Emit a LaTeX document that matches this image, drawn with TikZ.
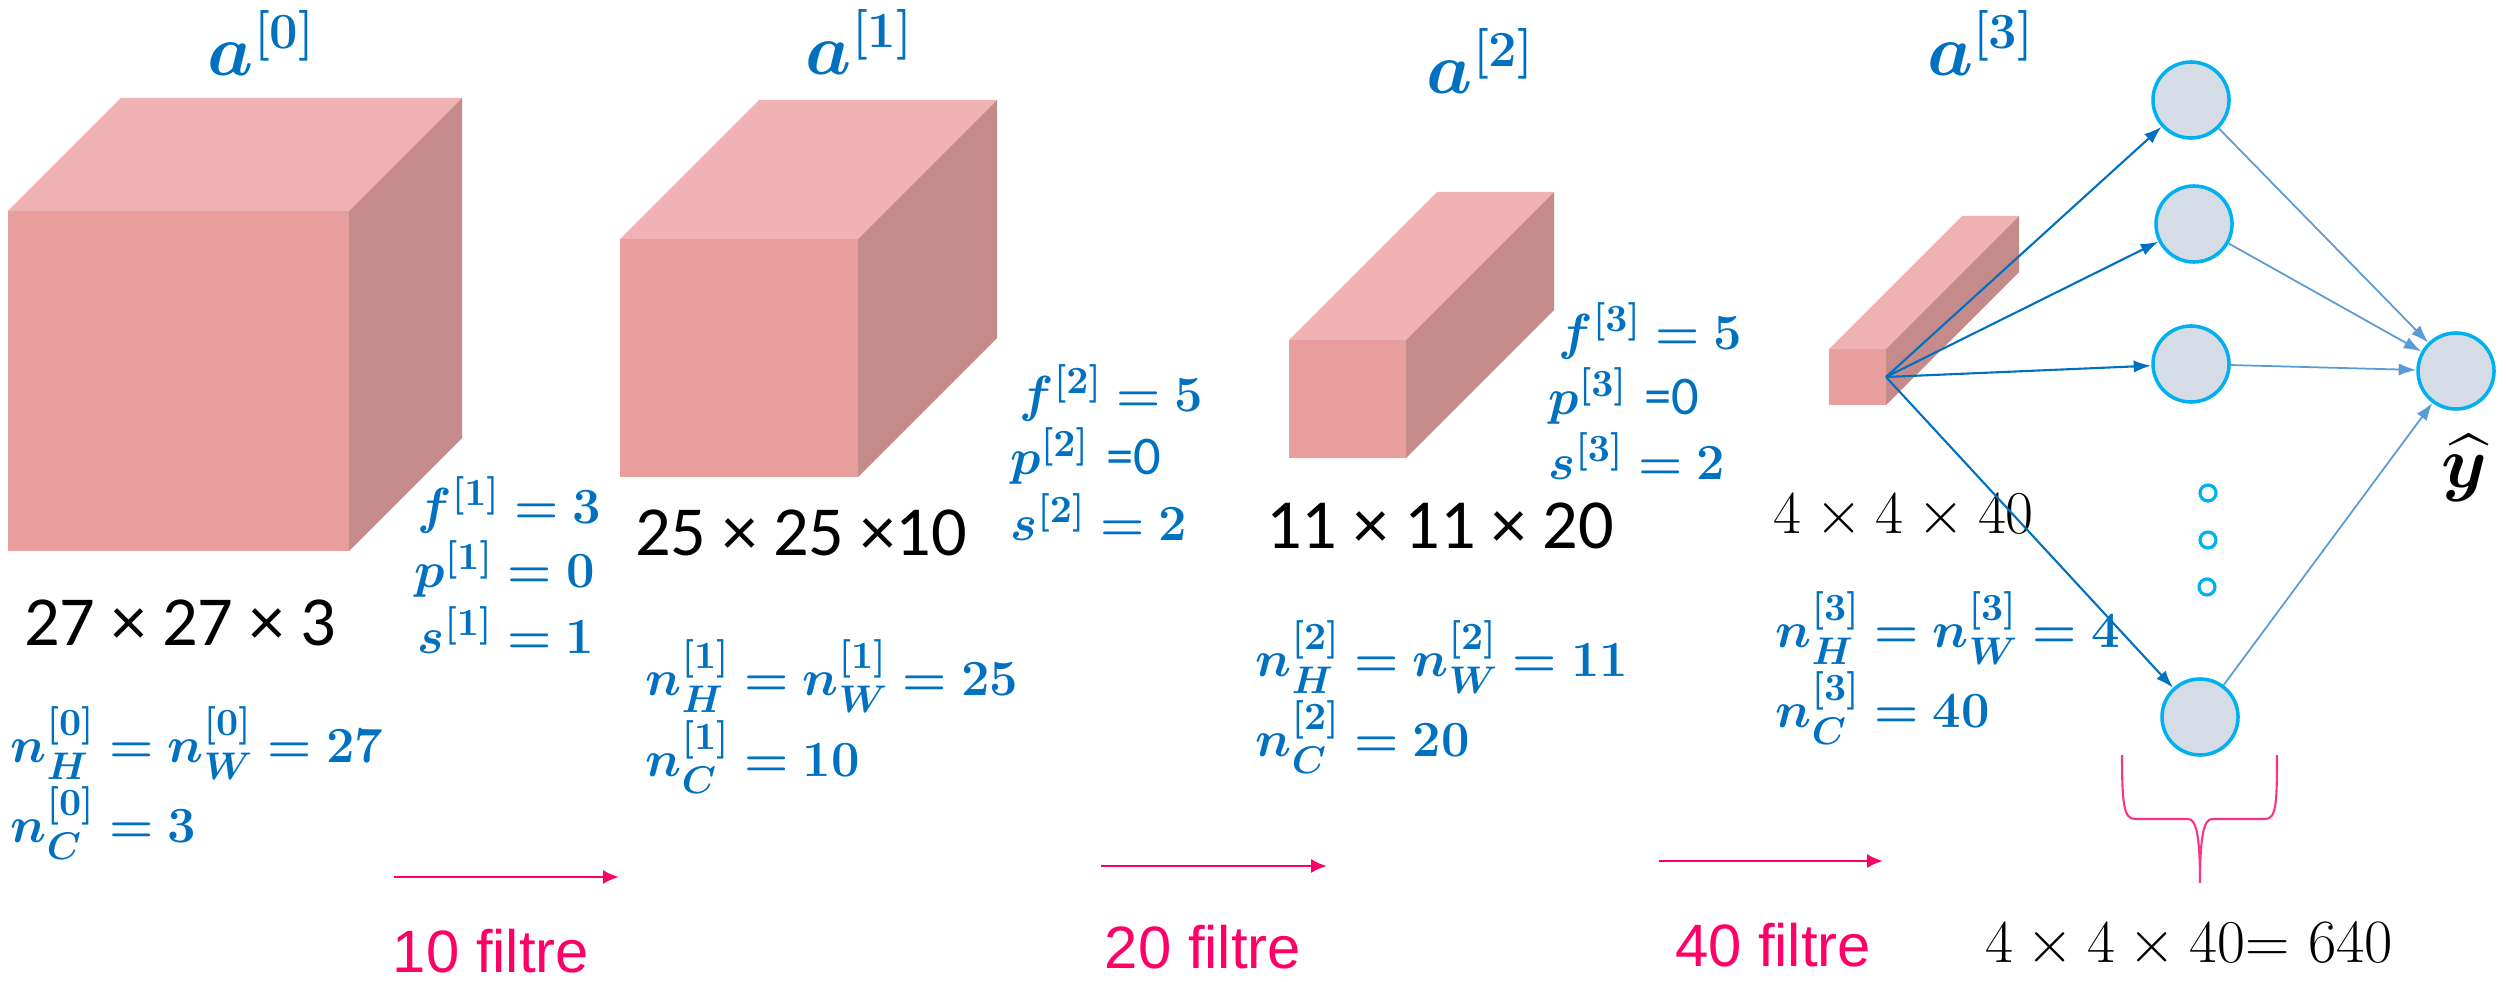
\documentclass[tikz,border=0pt]{standalone}
\usepackage{amsmath,amssymb}
\usepackage{bm}
\usepackage{fontspec}
\setsansfont{Carlito}
\newfontfamily\arialfont{Liberation Sans}
\usetikzlibrary{arrows.meta}

\definecolor{frontpink}{HTML}{E99E9E}
\definecolor{toppink}{HTML}{F0B2B2}
\definecolor{sidepink}{HTML}{C58B8A}
\definecolor{formblue}{HTML}{0070C0}
\definecolor{lineblue}{HTML}{5B9BD5}
\definecolor{ringcyan}{HTML}{00B0F0}
\definecolor{nodegray}{HTML}{D6DCE5}
\definecolor{filtpink}{HTML}{FF0066}
\definecolor{bracepink}{HTML}{FF3385}

% front face top-left x, y, width, height, depth
\newcommand{\layerbox}[5]{%
  \fill[frontpink] (#1,#2) rectangle ++(#3,#4);
  \fill[toppink] (#1,#2) -- ++(#5,-#5) -- ++(#3,0) -- ++(-#5,#5) -- cycle;
  \fill[sidepink] (#1+#3,#2) -- ++(#5,-#5) -- ++(0,#4) -- ++(-#5,#5) -- cycle;
}

\begin{document}
\begin{tikzpicture}[x=0.01cm,y=-0.01cm,>={Latex[length=5pt,width=3.5pt]},
    every node/.style={inner sep=0pt},
    actlabel/.style={text=formblue,font=\fontsize{20}{24}\selectfont},
    formula/.style={text=formblue,anchor=west,font=\fontsize{15.5}{18}\selectfont},
    dimtext/.style={font=\sffamily\fontsize{20}{24}\selectfont},
    filtlabel/.style={text=filtpink,font=\arialfont\fontsize{17}{20}\selectfont},
    filtarrow/.style={->,draw=filtpink,line width=0.8pt,>={Latex[length=4.5pt,width=4pt]}},
    neuron/.style={circle,draw=ringcyan,fill=nodegray,line width=1pt,minimum size=0.76cm},
    vdot/.style={circle,draw=ringcyan,fill=white,line width=0.9pt,minimum size=0.16cm},
    fanarrow/.style={->,draw=formblue,line width=0.6pt},
    outarrow/.style={->,draw=lineblue,line width=0.5pt}]
  \useasboundingbox (0,0) rectangle (2506,982);

  % volumes
  \layerbox{8}{211}{341}{340}{113}
  \layerbox{620}{239}{238}{238}{139}
  \layerbox{1289}{340}{117}{118}{148}
  \layerbox{1829}{349}{57}{56}{133}

  \node[actlabel] (a0) at (262,43) {$\bm{a^{[0]}}$};
  \node[actlabel] (a1) at (860,42) {$\bm{a^{[1]}}$};
  \node[actlabel] (a2) at (1481,61) {$\bm{a^{[2]}}$};
  \node[actlabel] (a3) at (1981,43) {$\bm{a^{[3]}}$};

  \node[dimtext] (dim0) at (180,623) {27 × 27 × 3};
  \node[dimtext] (dim1) at (801,533) {25 × 25 ×10};
  \node[dimtext] (dim2) at (1440,526) {11 × 11 × 20};
  \node[anchor=west,font=\fontsize{18}{22}\selectfont] (dim3) at (1773,516) {$4\times 4\times 40$};

  % hyperparameters
  \node[formula] (f1) at (417,505) {$\bm{f^{[1]}=3}$};
  \node[formula] (p1) at (414,569) {$\bm{p^{[1]}=0}$};
  \node[formula] (s1) at (417,630) {$\bm{s^{[1]}=1}$};
  \node[formula] (f2) at (1019,393) {$\bm{f^{[2]}=5}$};
  \node[formula] (p2) at (1010,456) {$\bm{p^{[2]}}$ {\sffamily =0}};
  \node[formula] (s2) at (1010,517) {$\bm{s^{[2]}=2}$};
  \node[formula] (f3) at (1558,331) {$\bm{f^{[3]}=5}$};
  \node[formula] (p3) at (1548,396) {$\bm{p^{[3]}}$ {\sffamily =0}};
  \node[formula] (s3) at (1548,456) {$\bm{s^{[3]}=2}$};

  % sizes
  \node[formula] (nhw0) at (10,743) {$\bm{n_H^{[0]}=n_W^{[0]}=27}$};
  \node[formula] (nc0) at (10,823) {$\bm{n_C^{[0]}=3}$};
  \node[formula] (nhw1) at (645,676) {$\bm{n_H^{[1]}=n_W^{[1]}=25}$};
  \node[formula] (nc1) at (645,757) {$\bm{n_C^{[1]}=10}$};
  \node[formula] (nhw2) at (1255,657) {$\bm{n_H^{[2]}=n_W^{[2]}=11}$};
  \node[formula] (nc2) at (1255,737) {$\bm{n_C^{[2]}=20}$};
  \node[formula] (nhw3) at (1775,628) {$\bm{n_H^{[3]}=n_W^{[3]}=4}$};
  \node[formula] (nc3) at (1775,708) {$\bm{n_C^{[3]}=40}$};

  % filters
  \coordinate (fa1) at (394,877);
  \coordinate (fb1) at (619,877);
  \coordinate (fa2) at (1101,866);
  \coordinate (fb2) at (1327,866);
  \coordinate (fa3) at (1659,861);
  \coordinate (fb3) at (1883,861);
  \draw[filtarrow] (fa1) -- (fb1);
  \draw[filtarrow] (fa2) -- (fb2);
  \draw[filtarrow] (fa3) -- (fb3);
  \node[filtlabel] (filt1) at (491,951) {10 filtre};
  \node[filtlabel] (filt2) at (1203,947) {20 filtre};
  \node[filtlabel] (filt3) at (1773,945) {40 filtre};

  % fully connected part
  \coordinate (c3) at (1886,377);
  \node[neuron] (h1) at (2191,100) {};
  \node[neuron] (h2) at (2194,224) {};
  \node[neuron] (h3) at (2191,364) {};
  \node[neuron] (h4) at (2200,717) {};
  \node[neuron] (out) at (2456,371) {};
  \node[vdot] (dot1) at (2208,493) {};
  \node[vdot] (dot2) at (2208,540) {};
  \node[vdot] (dot3) at (2207,587) {};
  \foreach \h in {h1,h2,h3,h4} {
    \draw[fanarrow] (c3) -- (\h);
    \draw[outarrow] (\h) -- (out);
  }
  \node[font=\fontsize{20}{24}\selectfont] (yhat) at (2464,468) {$\widehat{\bm{y}}$};

  \draw[bracepink,line width=0.6pt] (2122,755) .. controls (2122,805) and (2124,819) .. (2135,819)
    -- (2188,819) .. controls (2196,819) and (2200,835) .. (2200,883)
    .. controls (2200,835) and (2204,819) .. (2212,819) -- (2265,819)
    .. controls (2276,819) and (2277,805) .. (2277,755);
  \node[font=\fontsize{17.5}{21}\selectfont] (total) at (2189,944) {$4\times 4\times 40$= 640};
\end{tikzpicture}
\end{document}
